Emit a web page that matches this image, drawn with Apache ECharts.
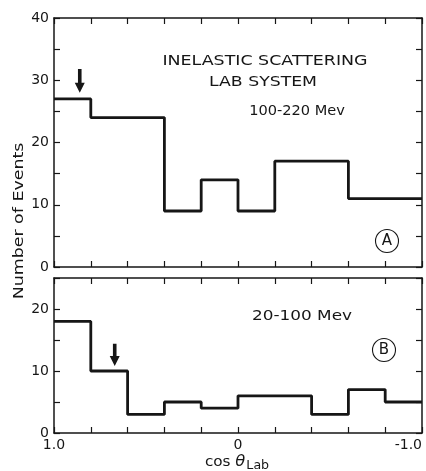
<!DOCTYPE html>
<html>
<head>
<meta charset="utf-8">
<script src="https://cdn.jsdelivr.net/npm/echarts@6/dist/echarts.min.js"></script>
<style>
  html, body { margin: 0; padding: 0; background: #fff; }
  #chart { width: 426px; height: 471px; }
</style>
</head>
<body>
<div id="chart"></div>
<script>
// Panel A: 100-220 Mev, bin edges in cos(theta_lab) and event counts per bin
const edgesA = [1.0, 0.8, 0.4, 0.2, 0.0, -0.2, -0.6, -1.0];
const countsA = [27, 24, 9, 14, 9, 17, 11];
// Panel B: 20-100 Mev
const edgesB = [1.0, 0.8, 0.6, 0.4, 0.2, 0.0, -0.4, -0.6, -0.8, -1.0];
const countsB = [18, 10, 3, 5, 4, 6, 3, 7, 5];
// Arrows: [cos theta, tip count, tail count]
const arrowA = [0.86, 28, 31.8];
const arrowB = [0.67, 10.8, 14.4];
// Axis ranges and labels
const yMaxA = 40, yMaxB = 25;
const xTickLabels = { '1': '1.0', '0': '0', '-1': '-1.0' };

const FONT = 'DejaVu Sans';
const INK = '#161616';

function stepPoints(edges, counts) {
  const pts = counts.map((c, i) => [edges[i], c]);
  pts.push([edges[edges.length - 1], counts[counts.length - 1]]);
  return pts;
}

function xAxisDef(grid, pos, showLabels) {
  return {
    type: 'value', gridIndex: grid, position: pos,
    min: -1, max: 1, interval: 0.2, inverse: true,
    axisLine: { show: true, onZero: false, lineStyle: { color: INK, width: 1.5 } },
    axisTick: { show: true, inside: true, length: 6, lineStyle: { color: INK, width: 1.2 } },
    splitLine: { show: false },
    axisLabel: showLabels ? {
      show: true, margin: 5, fontFamily: FONT, fontSize: 14, color: INK,
      alignMinLabel: 'right',
      formatter: v => {
        const k = String(Math.round(v * 10) / 10);
        return xTickLabels[k] !== undefined ? xTickLabels[k] : '';
      }
    } : { show: false }
  };
}

function yAxisDef(grid, pos, max, showLabels) {
  return {
    type: 'value', gridIndex: grid, position: pos,
    min: 0, max: max, interval: 5,
    axisLine: { show: true, onZero: false, lineStyle: { color: INK, width: 1.5 } },
    axisTick: { show: true, inside: true, length: 6, lineStyle: { color: INK, width: 1.2 } },
    splitLine: { show: false },
    axisLabel: showLabels ? {
      show: true, margin: 5, fontFamily: FONT, fontSize: 14, color: INK,
      formatter: v => (v % 10 === 0) ? String(v) : ''
    } : { show: false }
  };
}

function arrowRender(params, api) {
  const tip = api.coord([api.value(0), api.value(1)]);
  const tail = api.coord([api.value(0), api.value(2)]);
  const hl = 10, hh = 5, sh = 1.8;
  const x = tip[0];
  return {
    type: 'polygon',
    shape: { points: [
      [x - sh, tail[1]], [x + sh, tail[1]], [x + sh, tip[1] - hl], [x + hh, tip[1] - hl],
      [x, tip[1]], [x - hh, tip[1] - hl], [x - sh, tip[1] - hl]
    ] },
    style: { fill: INK }
  };
}

// Stencil-style lettering: widened glyphs via horizontal scale
function textEl(str, x, y, size, sx) {
  return {
    type: 'text', x: x, y: y, scaleX: sx || 1,
    style: { text: str, fontFamily: FONT, fontSize: size, fill: INK, align: 'center', verticalAlign: 'middle' }
  };
}

function circledLetter(letter, x, y) {
  return [
    { type: 'circle', shape: { cx: x, cy: y, r: 11.5 }, style: { fill: 'none', stroke: INK, lineWidth: 1.1 } },
    textEl(letter, x, y + 0.5, 15)
  ];
}

const chart = echarts.init(document.getElementById('chart'), null, { renderer: 'canvas' });
chart.setOption({
  animation: false,
  backgroundColor: '#fff',
  grid: [
    { left: 54, right: 4, top: 18, height: 249 },
    { left: 54, right: 4, top: 278, height: 155 }
  ],
  xAxis: [
    xAxisDef(0, 'bottom', false), xAxisDef(0, 'top', false),
    xAxisDef(1, 'bottom', true), xAxisDef(1, 'top', false)
  ],
  yAxis: [
    yAxisDef(0, 'left', yMaxA, true), yAxisDef(0, 'right', yMaxA, false),
    yAxisDef(1, 'left', yMaxB, true), yAxisDef(1, 'right', yMaxB, false)
  ],
  series: [
    { type: 'line', xAxisIndex: 0, yAxisIndex: 0, step: 'end', showSymbol: false,
      data: stepPoints(edgesA, countsA), lineStyle: { color: INK, width: 2.8 } },
    { type: 'line', xAxisIndex: 2, yAxisIndex: 2, step: 'end', showSymbol: false,
      data: stepPoints(edgesB, countsB), lineStyle: { color: INK, width: 2.8 } },
    { type: 'custom', xAxisIndex: 0, yAxisIndex: 0, renderItem: arrowRender, data: [arrowA] },
    { type: 'custom', xAxisIndex: 2, yAxisIndex: 2, renderItem: arrowRender, data: [arrowB] }
  ],
  graphic: [
    textEl('INELASTIC SCATTERING', 265, 61, 13.5, 1.29),
    textEl('LAB SYSTEM', 263, 82, 13.5, 1.28),
    textEl('100-220 Mev', 297, 111, 13.5, 1.08),
    textEl('20-100 Mev', 302, 316, 13.5, 1.25),
    ...circledLetter('A', 387, 241),
    ...circledLetter('B', 384, 350),
    {
      type: 'text', x: 19, y: 221, rotation: Math.PI / 2, scaleX: 1.2,
      style: { text: 'Number of Events', fontFamily: FONT, fontSize: 14.5, fill: INK, align: 'center', verticalAlign: 'middle' }
    },
    {
      type: 'text', x: 237, y: 462, scaleX: 1.05,
      style: {
        text: '{a|cos }{t|θ}{s|Lab}', align: 'center', verticalAlign: 'middle',
        rich: {
          a: { fontFamily: FONT, fontSize: 14.5, fill: INK },
          t: { fontFamily: FONT, fontSize: 15.5, fontStyle: 'italic', fill: INK },
          s: { fontFamily: FONT, fontSize: 12, fill: INK, padding: [7, 0, 0, 1] }
        }
      }
    }
  ]
});
</script>
</body>
</html>
